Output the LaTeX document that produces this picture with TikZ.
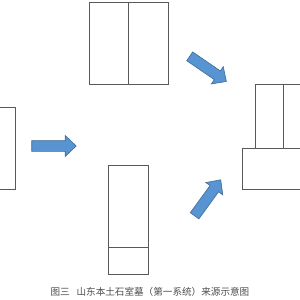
\documentclass[tikz,border=0pt]{standalone}
\usepackage{fontspec}
\newfontfamily\cjkfont{Noto Sans CJK SC}
\usetikzlibrary{positioning}
\definecolor{arrowblue}{RGB}{88,148,210}
\definecolor{arrowedge}{RGB}{62,108,152}
\tikzset{
  slab/.style={rectangle, draw=black!65, line width=0.8pt, outer sep=0pt,
    inner sep=0pt, fill=white},
  flow/.style={fill=arrowblue, draw=arrowedge, line width=0.6pt, line join=miter},
  blockarrow/.pic={
    \draw[flow] (0,-5.3) -- (33.5,-5.3) -- (33.5,-10.5) -- (44.5,0)
      -- (33.5,10.5) -- (33.5,5.3) -- (0,5.3) -- cycle;
  },
  caption/.style={font=\cjkfont\fontsize{9.6}{11}\selectfont, text=black!70},
}

\begin{document}
\begin{tikzpicture}[x=1pt, y=-1pt]
  \useasboundingbox (0,0) rectangle (300,300);
  \clip (0,0) rectangle (300,300);
  % top pair of slabs
  \node[slab, minimum width=39.7pt, minimum height=82pt, anchor=north west] (topL) at (89,2) {};
  \node[slab, minimum width=39.7pt, minimum height=82pt, right=0pt of topL] (topR) {};
  % left slab, cut by the frame
  \node[slab, minimum width=40pt, minimum height=82pt, anchor=north east] (left) at (15,107.3) {};
  % bottom slab with its foot
  \node[slab, minimum width=40pt, minimum height=82pt, anchor=north west] (botU) at (108.7,165) {};
  \node[slab, minimum width=40pt, minimum height=27pt, below=0pt of botU] (botF) {};
  % chamber on the right
  \node[slab, minimum width=88pt, minimum height=40.7pt, anchor=north west] (base) at (242.3,148.3) {};
  \node[slab, minimum width=27.6pt, minimum height=64.3pt, anchor=south west] (wallL) at (base.north west -| 255.7,0) {};
  \node[slab, minimum width=27.6pt, minimum height=64.3pt, right=0pt of wallL] (wallR) {};
  % arrows
  \coordinate (a1) at (31.7,146);
  \coordinate (a2) at (189.7,56.3);
  \coordinate (a3) at (194.6,215.8);
  \pic at (a1) {blockarrow};
  \pic[rotate=-34.5] at (a2) {blockarrow};
  \pic[rotate=54] at (a3) {blockarrow};
  % caption
  \node[caption] (cap) at (150,291.5) {图三\hspace{0.7em}山东本土石室墓（第一系统）来源示意图};
\end{tikzpicture}
\end{document}
